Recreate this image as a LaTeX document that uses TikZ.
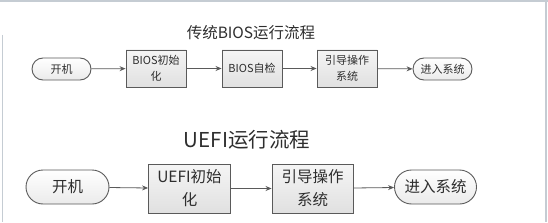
\documentclass[tikz,border=0pt]{standalone}
\usepackage{fontspec}
\setmainfont{Noto Sans CJK SC}
\usetikzlibrary{arrows.meta,shapes.misc}
\definecolor{edge}{HTML}{5A5A5A}
\definecolor{ink}{HTML}{2E2E2E}
\definecolor{frame}{HTML}{C5CCD3}
\tikzset{
  boxbase/.style={draw=edge, line width=0.9pt, top color=white!96!black, bottom color=white!88!black, text=ink, align=center, inner sep=0pt},
  stepbox/.style={boxbase, rectangle},
  termbox/.style={boxbase, rounded rectangle, top color=white, bottom color=white!92!black},
  smallfont/.style={font=\fontsize{11}{15.5}\selectfont},
  bigfont/.style={font=\fontsize{15.5}{23}\selectfont},
  flow/.style={draw=edge, line width=0.8pt, -{Stealth[length=6pt,width=5pt]}},
}
\begin{document}
\begin{tikzpicture}[x=1pt,y=-1pt]
\useasboundingbox (0,0) rectangle (548,222);
\fill[white] (0,0) rectangle (548,222);
% frame
\draw[frame, line width=1.2pt] (0,1) -- (548,1);
\draw[frame, line width=1.2pt] (2.5,35) -- (2.5,222);
\draw[frame, line width=1.2pt] (546,1) -- (546,222);

% top diagram
\node[text=ink, font=\fontsize{15.5}{18}\selectfont] (t1) at (251,33) {传统BIOS运行流程};
\node[termbox, smallfont, minimum width=59pt, minimum height=22pt] (s1) at (61.5,69) {开机};
\node[stepbox, smallfont, minimum width=60pt, minimum height=37pt] (b1) at (156,68.5) {BIOS初始\\化};
\node[stepbox, smallfont, minimum width=60pt, minimum height=37pt] (b2) at (252,68.5) {BIOS自检};
\node[stepbox, smallfont, minimum width=60pt, minimum height=37pt] (b3) at (347,68.5) {引导操作\\系统};
\node[termbox, smallfont, minimum width=59pt, minimum height=22pt] (e1) at (442.5,69) {进入系统};
\draw[flow] (s1) -- (b1);
\draw[flow] (b1) -- (b2);
\draw[flow] (b2) -- (b3);
\draw[flow] (b3) -- (e1);

% bottom diagram
\node[text=ink, font=\fontsize{20.5}{24}\selectfont] (t2) at (247,140) {UEFI运行流程};
\node[termbox, bigfont, minimum width=83pt, minimum height=34pt] (s2) at (67.5,187) {开机};
\node[stepbox, bigfont, minimum width=82pt, minimum height=49pt] (c1) at (189.5,188.5) {UEFI初始\\化};
\node[stepbox, bigfont, minimum width=81pt, minimum height=49pt] (c2) at (312.5,188.5) {引导操作\\系统};
\node[termbox, bigfont, minimum width=82pt, minimum height=34pt] (e2) at (435.5,187) {进入系统};
\draw[flow] (s2) -- (c1);
\draw[flow] (c1) -- (c2);
\draw[flow] (c2) -- (e2);
\end{tikzpicture}
\end{document}
